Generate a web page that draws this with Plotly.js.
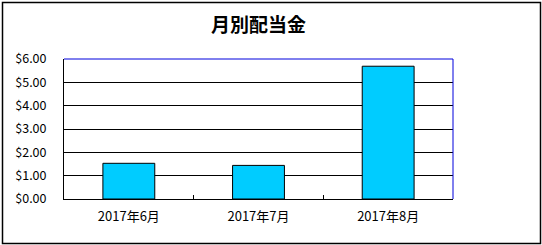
<!DOCTYPE html>
<html>
<head>
<meta charset="utf-8">
<script src="https://cdn.plot.ly/plotly-3.0.1.min.js"></script>
<style>
html,body{margin:0;padding:0;background:#fff;}
#chart{width:542px;height:245px;}
</style>
</head>
<body>
<div id="chart"></div>
<script>
const categories = ["2017年6月", "2017年7月", "2017年8月"];
const dividends = [1.53, 1.44, 5.69];
const yTickValues = [0, 1, 2, 3, 4, 5, 6];
const yTickLabels = ["$0.00", "$1.00", "$2.00", "$3.00", "$4.00", "$5.00", "$6.00"];

const W = 542, H = 245;
const M = {l: 64, r: 89, t: 59, b: 46};
const pw = W - M.l - M.r, ph = H - M.t - M.b;
const px = v => (v - M.l) / pw;
const py = v => (H - M.b - v) / ph;
const font = "'Noto Sans CJK JP', 'Liberation Sans', sans-serif";

const trace = {
  type: "bar",
  x: categories,
  y: dividends,
  marker: {color: "#00CCFF", line: {color: "#000000", width: 1}},
  hoverinfo: "none"
};

const layout = {
  width: W, height: H,
  margin: M,
  paper_bgcolor: "#ffffff",
  plot_bgcolor: "#ffffff",
  showlegend: false,
  bargap: 0.6,
  font: {family: font, size: 12, color: "#000"},
  title: {
    text: "<b>月別配当金</b>",
    font: {family: font, size: 19, color: "#000"},
    x: 0.5, xref: "paper", xanchor: "center",
    y: 1 - 25 / H, yref: "container", yanchor: "middle"
  },
  xaxis: {
    type: "category",
    showline: true, linecolor: "#000", linewidth: 1,
    ticks: "inside", tickson: "boundaries", ticklen: 4, tickcolor: "#000",
    showgrid: false, zeroline: false,
    tickfont: {family: font, size: 13, color: "#000"},
    ticklabelstandoff: 5,
    fixedrange: true
  },
  yaxis: {
    range: [0, 6],
    tickvals: yTickValues, ticktext: yTickLabels,
    showline: true, linecolor: "#000", linewidth: 1,
    ticks: "", showgrid: true, gridcolor: "#000", gridwidth: 1,
    zeroline: false,
    tickfont: {family: font, size: 12.5, color: "#000"},
    ticklabelstandoff: 14,
    fixedrange: true
  },
  shapes: [
    {type: "line", xref: "paper", yref: "paper", x0: 0, x1: 1, y0: 1, y1: 1,
     line: {color: "#0000DD", width: 1}},
    {type: "line", xref: "paper", yref: "paper", x0: 1, x1: 1, y0: 0, y1: 1,
     line: {color: "#0000DD", width: 1}},
    {type: "rect", xref: "paper", yref: "paper",
     x0: px(2.5), x1: px(540.5), y0: py(243.5), y1: py(2.5),
     line: {color: "#000", width: 1.5}, fillcolor: "rgba(0,0,0,0)", layer: "below"}
  ]
};

Plotly.newPlot("chart", [trace], layout, {displayModeBar: false, staticPlot: true});
</script>
</body>
</html>
